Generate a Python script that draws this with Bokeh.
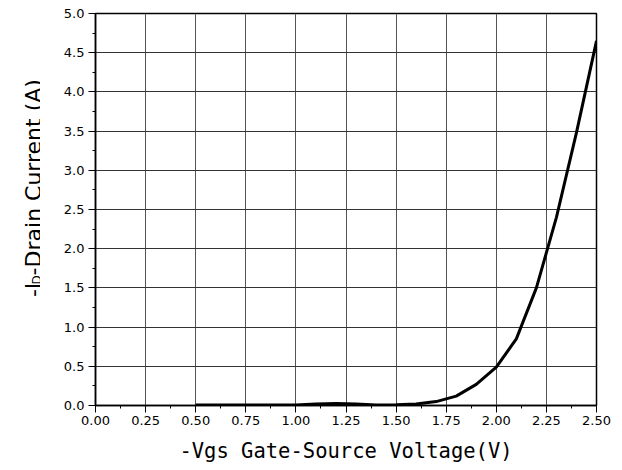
import math
from bokeh.plotting import figure
from bokeh.layouts import row
from bokeh.models import Range1d, FixedTicker, NumeralTickFormatter
from bokeh.core.properties import value
from bokeh.embed import file_html
from bokeh.resources import INLINE

# Data
vgs = [0.5, 0.6, 0.7, 0.8, 0.9, 1.0, 1.1, 1.2, 1.3, 1.4, 1.5, 1.6, 1.7, 1.8, 1.9, 2.0, 2.1, 2.2, 2.3, 2.4, 2.5]
drain_current = [0.005, 0.005, 0.005, 0.005, 0.005, 0.005, 0.02, 0.025, 0.02, 0.006, 0.008, 0.02, 0.05, 0.12, 0.27, 0.49, 0.85, 1.5, 2.4, 3.48, 4.65]

x_ticks = [0.0, 0.25, 0.5, 0.75, 1.0, 1.25, 1.5, 1.75, 2.0, 2.25, 2.5]
x_minor = [0.125, 0.375, 0.625, 0.875, 1.125, 1.375, 1.625, 1.875, 2.125, 2.375]
y_ticks = [0.0, 0.5, 1.0, 1.5, 2.0, 2.5, 3.0, 3.5, 4.0, 4.5, 5.0]
y_minor = [0.25, 0.75, 1.25, 1.75, 2.25, 2.75, 3.25, 3.75, 4.25, 4.75]

x_title = "-Vgs Gate-Source Voltage(V)"
y_title_parts = ["-I", "D", "-Drain Current (A)"]

TOTAL_W, TOTAL_H = 622, 470
LAB_W = 40

# ---- narrow figure holding the rotated y-axis title (with subscript) ----
lab = figure(width=LAB_W, height=TOTAL_H, output_backend="svg", toolbar_location=None,
             x_range=Range1d(0, LAB_W), y_range=Range1d(0, TOTAL_H),
             x_axis_type=None, y_axis_type=None,
             min_border_left=0, min_border_right=0, min_border_top=0, min_border_bottom=0)
lab.outline_line_color = None
lab.xgrid.visible = False
lab.ygrid.visible = False
lab.border_fill_color = "white"
lab.background_fill_color = "white"

lab_font = value("DejaVu Sans")
rot = math.pi / 2
# baseline x (pixels from left) and start y (pixels from bottom) of each piece
lab.text(x=[33], y=[TOTAL_H - 340], text=[y_title_parts[0]], angle=rot,
         text_font=lab_font, text_font_size="22px", text_align="left",
         text_baseline="alphabetic", text_color="black")
lab.text(x=[36], y=[TOTAL_H - 325], text=[y_title_parts[1]], angle=rot,
         text_font=lab_font, text_font_size="12px", text_align="left",
         text_baseline="alphabetic", text_color="black")
lab.text(x=[33], y=[TOTAL_H - 314], text=[y_title_parts[2]], angle=rot,
         text_font=lab_font, text_font_size="22px", text_align="left",
         text_baseline="alphabetic", text_color="black")

# ---- main plot ----
p = figure(width=TOTAL_W - LAB_W, height=TOTAL_H, output_backend="svg", toolbar_location=None,
           x_range=Range1d(0, 2.5), y_range=Range1d(0, 5.0),
           min_border_left=95 - LAB_W, min_border_right=TOTAL_W - 596,
           min_border_top=13, min_border_bottom=TOTAL_H - 405)

p.background_fill_color = "white"
p.border_fill_color = "white"
p.outline_line_color = "black"
p.outline_line_width = 1.5

p.xaxis.ticker = FixedTicker(ticks=x_ticks, minor_ticks=x_minor)
p.yaxis.ticker = FixedTicker(ticks=y_ticks, minor_ticks=y_minor)
p.xaxis.formatter = NumeralTickFormatter(format="0.00")
p.yaxis.formatter = NumeralTickFormatter(format="0.0")

for ax in (p.xaxis, p.yaxis):
    ax.axis_line_color = "black"
    ax.axis_line_width = 1.5
    ax.major_tick_line_color = "black"
    ax.minor_tick_line_color = "black"
    ax.major_tick_line_width = 1
    ax.minor_tick_line_width = 1
    ax.major_tick_in = 0
    ax.major_tick_out = 7
    ax.minor_tick_in = 0
    ax.minor_tick_out = 3
    ax.major_label_text_font = "DejaVu Sans"
    ax.major_label_text_font_size = "13px"
    ax.major_label_text_color = "black"

p.xaxis.major_label_standoff = 3
p.yaxis.major_label_standoff = 4

p.xaxis.axis_label = x_title
p.xaxis.axis_label_text_font = "DejaVu Sans Mono"
p.xaxis.axis_label_text_font_size = "20.5px"
p.xaxis.axis_label_text_font_style = "normal"
p.xaxis.axis_label_text_color = "black"
p.xaxis.axis_label_standoff = 11

p.xgrid.grid_line_color = "#555555"
p.ygrid.grid_line_color = "#333333"
p.xgrid.grid_line_width = 1
p.ygrid.grid_line_width = 1

p.line(vgs, drain_current, line_color="black", line_width=3)

layout = row(lab, p, spacing=0)
open("out.html", "w").write(file_html(layout, INLINE))
